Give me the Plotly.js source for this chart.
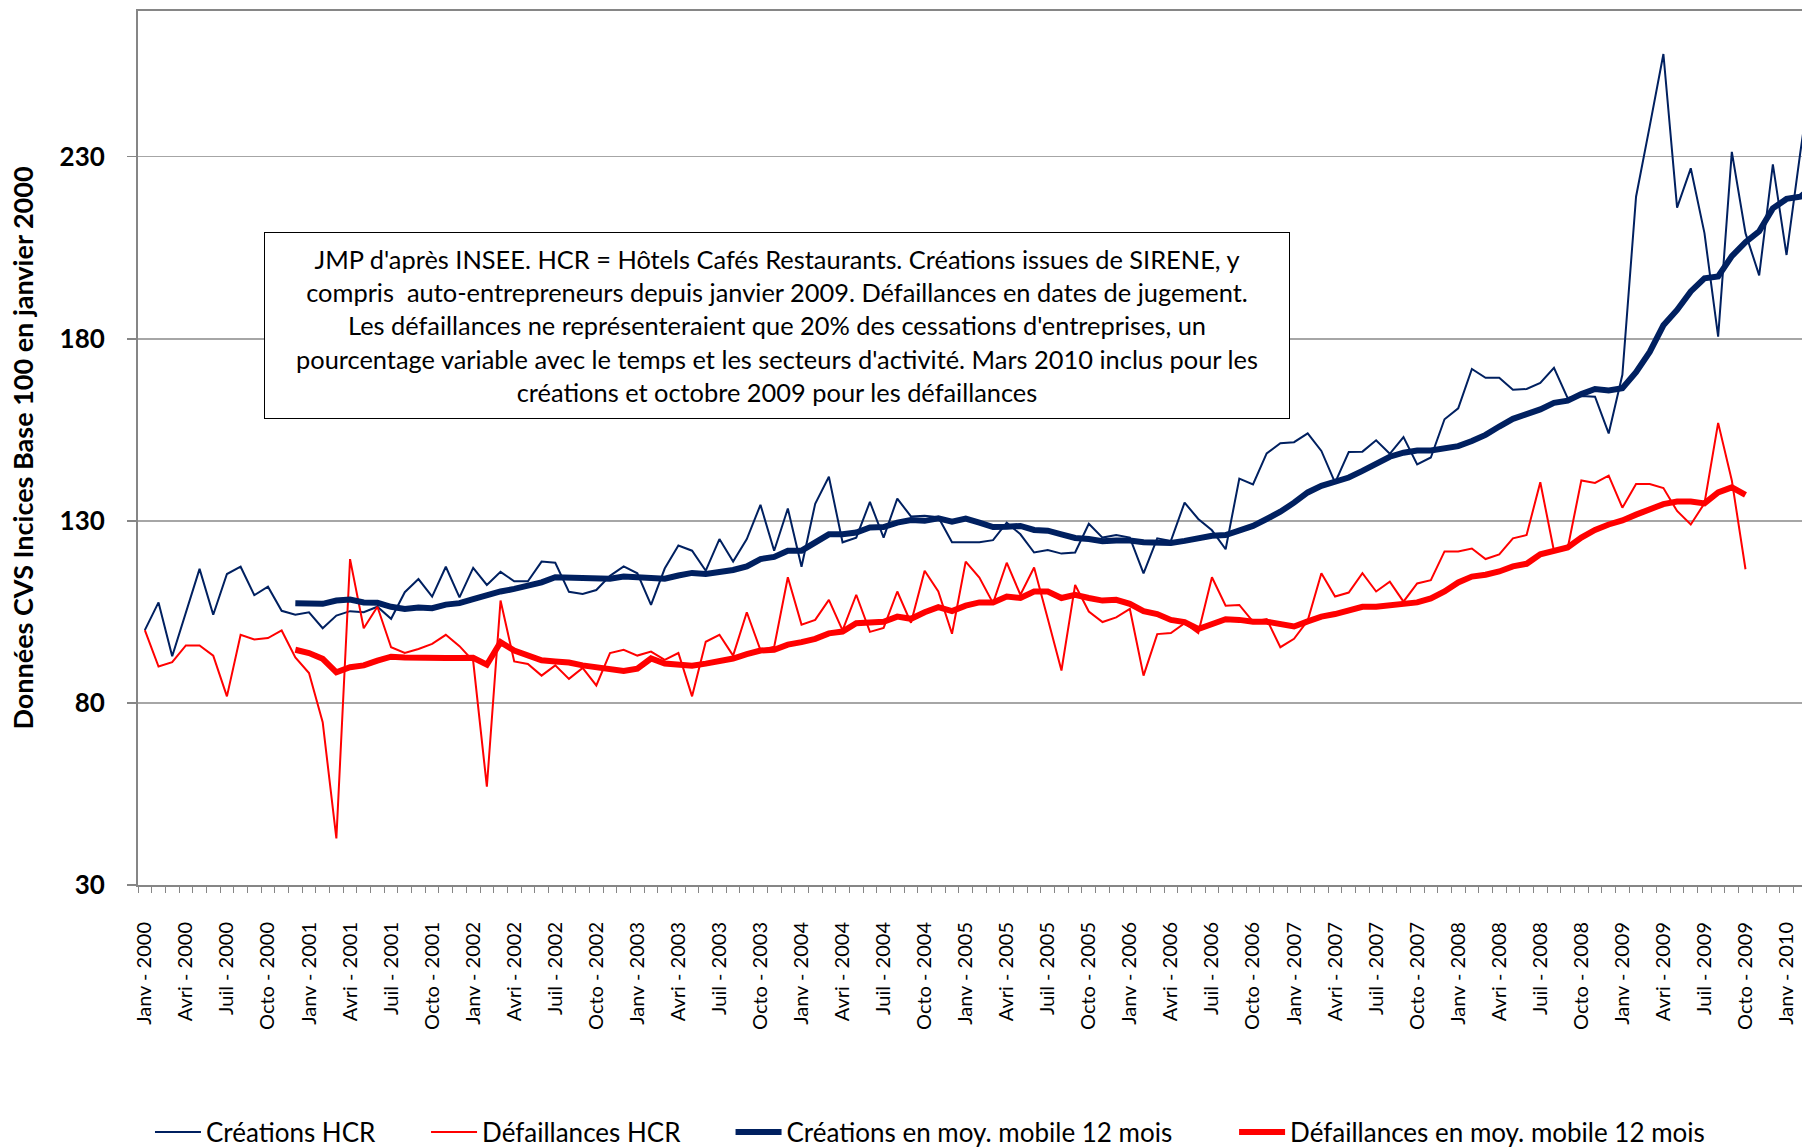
<!DOCTYPE html>
<html>
<head>
<meta charset="utf-8">
<script src="https://cdn.plot.ly/plotly-3.0.1.min.js"></script>
<style>html,body{margin:0;padding:0;background:#fff;}#chart{width:1802px;height:1147px;}</style>
</head>
<body>
<div id="chart"></div>
<script>
// Month labels (first four letters, as in the source chart) and years
const monthNames = ["Janv","Févr","Mars","Avri","Mai","Juin","Juil","Août","Sept","Octo","Nove","Déce"];
const years = [2000,2001,2002,2003,2004,2005,2006,2007,2008,2009,2010];
const nMonths = 123; // Janv 2000 .. Mars 2010

// Créations HCR (monthly, CVS, base 100 = janvier 2000), Janv 2000 .. Mars 2010
const creations = [
 100,107.6,92.8,104.8,116.8,104.2,115.4,117.4,109.6,111.9,105.3,104.2,
 104.9,100.5,104,105.2,104.9,106.4,103.1,110.4,114,109.2,117.4,109,
 117.1,112.4,116,113.4,113.4,118.8,118.5,110.5,109.9,111,114.9,117.5,
 115.6,106.9,116.9,123.2,121.8,116.3,125,118.8,125,134.4,121.8,133.4,
 117.4,134.7,142.1,124.1,125.4,135.2,125.4,136.1,131.2,131.4,131,124.1,
 124.1,124.1,124.7,129.5,126.3,121.3,122,121,121.3,129.2,125.4,126.1,
 125.4,115.6,125.2,124.5,135,130.5,127.4,122.2,141.6,140,148.5,151.3,
 151.6,154,149.2,140.5,148.9,149,152.1,148.4,153,145.5,147.4,157.9,
 160.9,171.7,169.3,169.3,166,166.2,167.9,172,163.7,164.3,164.1,154,
 170.1,219,238.4,258.2,216,226.8,209,180.6,231.3,209,197.4,227.9,
 203,231,257
];

// Défaillances HCR (monthly), Janv 2000 .. Octo 2009
const defaillances = [
 100,90,91.2,95.8,95.8,93,81.8,98.7,97.4,97.8,99.9,92.5,
 88.2,74.7,42.8,119.5,100.5,106.4,95.3,93.7,94.8,96.2,98.7,95.6,
 91.5,57,108.1,91.4,90.7,87.5,90.3,86.6,89.6,84.8,93.7,94.6,
 93,94.1,91.8,93.7,81.8,96.8,98.7,93,104.9,94.5,95.4,114.5,
 101.5,102.8,108.3,99.9,109.7,99.5,100.6,110.6,102,116.3,110.6,99,
 118.8,114.4,107.4,118.5,109.7,117.2,103.1,88.9,112.4,105.1,102.2,103.5,
 105.8,87.5,98.9,99.2,101.9,99.2,114.5,106.7,106.9,102.3,103,95.3,
 97.6,102.6,115.6,109.2,110.3,115.6,110.6,113.3,107.8,112.8,113.7,121.6,
 121.6,122.4,119.5,120.8,125.2,126.1,140.6,121.7,122.4,141.1,140.4,142.4,
 133.6,140.1,140.1,139,132.7,129,134.8,156.9,141.1,116.7
];

// Moyennes mobiles 12 mois, from Déce 2000 (index 11)
const maStart = 11;
const creationsMA = [
 107.4,
 107.4,107.2,108.1,108.4,107.6,107.5,106.4,105.8,106.2,106,107,107.4,
 108.5,109.6,110.6,111.3,112,113.1,114.5,114.5,114.1,114.1,114.1,114.7,
 114.4,114.1,114.1,115,115.7,115.4,115.9,116.5,117.5,119.5,120.1,121.8,
 121.8,124.1,126.3,126.3,126.8,128.2,128.3,129.5,130.2,130,130.7,129.8,
 130.6,129.5,128.3,128.4,128.6,127.5,127.3,126.3,125.3,125,124.4,124.6,
 124.6,124.1,124.2,123.9,124.5,125.2,125.9,126.1,127.4,128.6,130.5,132.5,
 135,137.8,139.6,140.7,141.9,143.7,145.5,147.6,148.7,149.3,149.3,149.8,
 150.5,151.9,153.6,155.9,158,159.3,160.6,162.4,163,164.8,166.2,165.8,
 166.4,170.8,176.4,183.7,187.9,193,196.6,197.1,202.7,206.5,209.5,215.8,
 218.4,219,222
];
const defaillancesMA = [
 94.6,
 93.7,92.1,88.4,89.8,90.3,91.6,92.7,92.5,92.3,92.3,92.3,92.3,
 92.4,90.5,96.7,94.4,93.2,91.7,91.4,91.1,90.3,89.7,89,88.8,
 89.4,92.2,90.8,90.6,90.2,90.8,91.5,92.2,93.4,94.4,94.6,96,
 96.7,97.6,99.1,99.6,101.9,102.2,102.3,103.7,103.1,104.9,106.3,105.2,
 106.7,107.6,107.6,109.2,108.8,110.6,110.6,108.8,109.7,108.8,108.1,108.3,
 107.2,105.2,104.4,102.8,102.2,100.3,101.6,103,102.8,102.3,102.3,101.6,
 101,102.4,103.7,104.4,105.2,106.4,106.4,106.7,106.9,107.6,108.7,110.6,
 113.1,114.7,115.2,116.1,117.5,118.2,120.8,121.7,122.7,125.4,127.5,129,
 130.1,131.7,133.3,134.6,135.3,135.3,134.8,137.8,139.2,137.1
];

const yTicks = [30, 80, 130, 180, 230];

const noteLines = [
 "JMP d'après INSEE. HCR = Hôtels Cafés Restaurants. Créations issues de SIRENE, y",
 "compris  auto-entrepreneurs depuis janvier 2009. Défaillances en dates de jugement.",
 "Les défaillances ne représenteraient que 20% des cessations d'entreprises, un",
 "pourcentage variable avec le temps et les secteurs d'activité. Mars 2010 inclus pour les",
 "créations et octobre 2009 pour les défaillances"
];

// Build category labels
const categories = [];
for (let i = 0; i < nMonths; i++) {
  const m = i % 12, y = years[Math.floor(i / 12)];
  categories.push(monthNames[m] + " - " + y);
}
const tickText = categories.map((c, i) => (i % 3 === 0 ? c : ""));

const NAVY = "#002060", RED = "#FF0000";
const FONT = "Lato, 'Open Sans', sans-serif";

const traces = [
  {x: categories.slice(0, creations.length), y: creations, name: "Créations HCR",
   type: "scatter", mode: "lines", line: {color: NAVY, width: 2}, legend: "legend"},
  {x: categories.slice(0, defaillances.length), y: defaillances, name: "Défaillances HCR",
   type: "scatter", mode: "lines", line: {color: RED, width: 2}, legend: "legend2"},
  {x: categories.slice(maStart, maStart + creationsMA.length), y: creationsMA,
   name: "Créations en moy. mobile 12 mois",
   type: "scatter", mode: "lines", line: {color: NAVY, width: 6}, legend: "legend3"},
  {x: categories.slice(maStart, maStart + defaillancesMA.length), y: defaillancesMA,
   name: "Défaillances en moy. mobile 12 mois",
   type: "scatter", mode: "lines", line: {color: RED, width: 6}, legend: "legend4"}
];

function legendAt(x) {
  return {
    orientation: "h", x: x, y: -0.2826, xanchor: "left", yanchor: "middle",
    font: {family: FONT, size: 26, color: "#000"},
    itemwidth: 46, bgcolor: "rgba(0,0,0,0)", borderwidth: 0
  };
}

const layout = {
  width: 1802, height: 1147,
  margin: {l: 138, r: 0, t: 11, b: 262, pad: 0, autoexpand: false},
  paper_bgcolor: "#ffffff", plot_bgcolor: "#ffffff",
  font: {family: FONT, color: "#000000"},
  showlegend: true,
  xaxis: {
    type: "category", categoryorder: "array", categoryarray: categories,
    range: [-0.5, 121.13], autorange: false,
    tickmode: "array", tickvals: categories, ticktext: tickText,
    tickangle: -90, tickson: "boundaries",
    ticks: "outside", ticklen: 6, tickwidth: 1, tickcolor: "#868686",
    ticklabelstandoff: 27,
    tickfont: {family: FONT, size: 20, color: "#000"},
    showgrid: false, zeroline: false, automargin: false,
    showline: true, linecolor: "#868686", linewidth: 2, mirror: true
  },
  yaxis: {
    range: [30, 270], autorange: false,
    tickmode: "array", tickvals: yTicks, ticktext: yTicks.map(String),
    ticks: "outside", ticklen: 9, tickwidth: 1.5, tickcolor: "#868686",
    ticklabelstandoff: 17,
    tickfont: {family: FONT, size: 26, color: "#000", weight: "bold"},
    showgrid: true, gridcolor: "#a6a6a6", gridwidth: 1.5,
    zeroline: false, showline: true, linecolor: "#868686", linewidth: 2,
    automargin: false,
    title: {text: "Données CVS Incices Base 100 en janvier 2000",
            font: {family: FONT, size: 27, color: "#000", weight: "bold"},
            standoff: 18}
  },
  legend: legendAt(0.0072),
  legend2: legendAt(0.1731),
  legend3: legendAt(0.3561),
  legend4: legendAt(0.6587),
  annotations: [{
    xref: "paper", yref: "paper", x: 0.384, y: 0.640,
    xanchor: "center", yanchor: "middle", showarrow: false,
    text: noteLines.join("<br>"), align: "center",
    width: 1022, height: 183,
    bordercolor: "#000000", borderwidth: 1, bgcolor: "#ffffff",
    font: {family: FONT, size: 25.4, color: "#000"}
  }]
};

Plotly.newPlot("chart", traces, layout, {displayModeBar: false, staticPlot: true});
</script>
</body>
</html>
